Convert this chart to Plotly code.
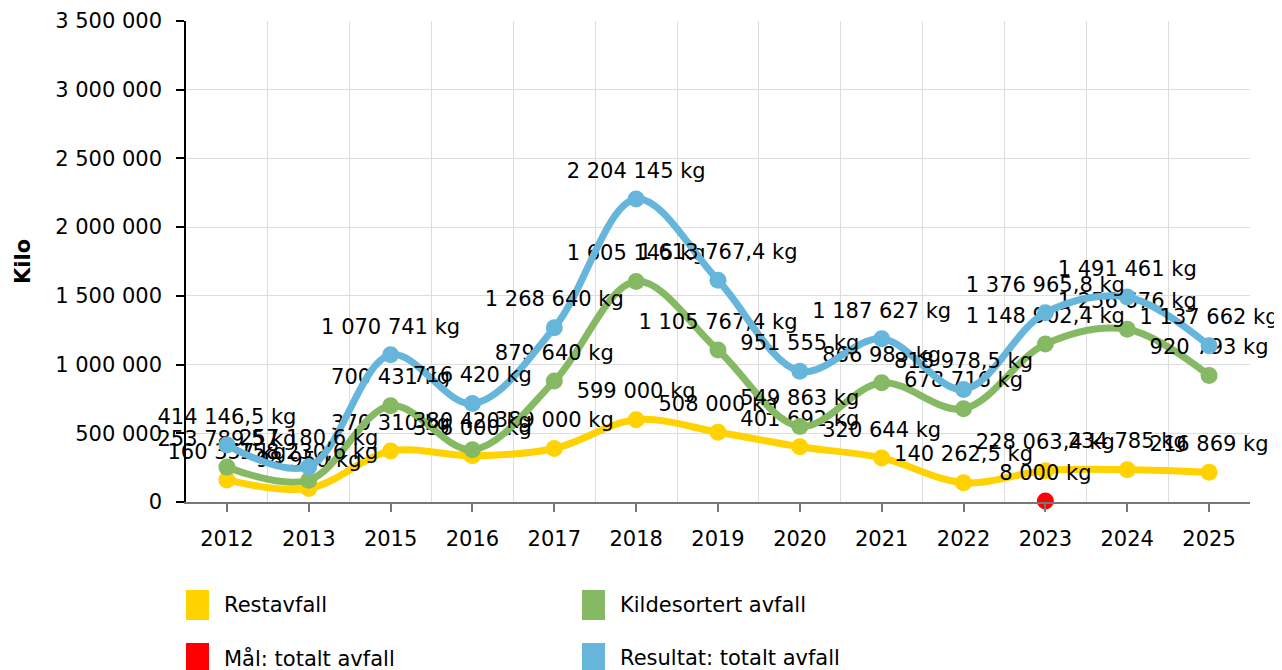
import plotly.graph_objects as go

years = ["2012", "2013", "2015", "2016", "2017", "2018", "2019", "2020", "2021", "2022", "2023", "2024", "2025"]
restavfall = [160357, 98950, 370310, 336000, 389000, 599000, 508000, 401692, 320644, 140262.5, 228063.4, 234785, 216869]
kildesortert = [253789.5, 158230.6, 700431, 380420, 879640, 1605145, 1105767.4, 549863, 866983, 678716, 1148902.4, 1256676, 920793]
resultat_total = [414146.5, 257180.6, 1070741, 716420, 1268640, 2204145, 1613767.4, 951555, 1187627, 818978.5, 1376965.8, 1491461, 1137662]
maal_years = ["2023"]
maal_total = [8000]

series_names = ["Restavfall", "Kildesortert avfall", "Mål: totalt avfall", "Resultat: totalt avfall"]
colors = {"Restavfall": "#FFD200", "Kildesortert avfall": "#86B963",
          "Mål: totalt avfall": "#FF0000", "Resultat: totalt avfall": "#66B6DC"}

FONT = "DejaVu Sans"
FS = 21


def fmt(v):
    if float(v).is_integer():
        s = f"{v:,.0f}"
    else:
        s = f"{v:,.1f}"
    return s.replace(",", " ").replace(".", ",") + " kg"


fig = go.Figure()

# dummy trace to define the main category axis
fig.add_trace(go.Scatter(x=years, y=[None] * len(years), mode="markers",
                         showlegend=False, hoverinfo="skip", xaxis="x", yaxis="y"))

series = [("Restavfall", years, restavfall, "lines+markers"),
          ("Kildesortert avfall", years, kildesortert, "lines+markers"),
          ("Resultat: totalt avfall", years, resultat_total, "lines+markers"),
          ("Mål: totalt avfall", maal_years, maal_total, "markers")]

for name, xs, vals, mode in series:
    fig.add_trace(go.Scatter(
        x=xs, y=vals, name=name, mode=mode,
        line=dict(color=colors[name], width=7, shape="spline", smoothing=1),
        marker=dict(color=colors[name], size=17),
        cliponaxis=False, showlegend=False, hoverinfo="skip",
        xaxis="x2", yaxis="y"))
    # value labels (a transparent, larger marker sets the label's distance from the point)
    fig.add_trace(go.Scatter(
        x=xs, y=vals, name=name, mode="markers+text",
        marker=dict(color="rgba(0,0,0,0)", size=24),
        text=[fmt(v) for v in vals], textposition="top center",
        textfont=dict(family=FONT, size=FS, color="#000"),
        cliponaxis=False, showlegend=False, hoverinfo="skip",
        xaxis="x2", yaxis="y"))

# page has an 8px body margin; the figure is sized so the plot area lands on the reference
W, H = 1274, 662
ML, MR, MT, MB = 178, 32, 13, 168
plot_w = W - ML - MR
plot_h = H - MT - MB
legend_pos = [(0, 103), (396, 103), (0, 156), (396, 156)]  # offsets from plot-area bottom-left
shapes = []
annotations = []
for name, (dx, dy) in zip(series_names, legend_pos):
    shapes.append(dict(type="rect", xref="paper", yref="paper",
                       x0=dx / plot_w, x1=(dx + 23) / plot_w,
                       y0=-(dy + 15) / plot_h, y1=-(dy - 15) / plot_h,
                       fillcolor=colors[name], line=dict(width=0)))
    annotations.append(dict(xref="paper", yref="paper", x=(dx + 36) / plot_w,
                            y=-dy / plot_h, text=name, showarrow=False,
                            xanchor="left", yanchor="middle",
                            font=dict(family=FONT, size=FS, color="#000")))

fig.update_layout(
    width=W, height=H,
    margin=dict(l=ML, r=MR, t=MT, b=MB, autoexpand=False),
    paper_bgcolor="white", plot_bgcolor="white",
    separators=", ",
    font=dict(family=FONT, size=FS, color="#000"),
    showlegend=False,
    shapes=shapes, annotations=annotations,
    xaxis=dict(type="category", categoryorder="array", categoryarray=years,
               range=[-0.5, len(years) - 0.5], showgrid=False, automargin=False,
               ticks="outside", ticklen=8, tickcolor="#777", tickwidth=2,
               ticklabelstandoff=9,
               showline=True, linecolor="#777", linewidth=2,
               tickfont=dict(family=FONT, size=FS, color="#000")),
    xaxis2=dict(type="category", categoryorder="array", categoryarray=years,
                range=[-0.5, len(years) - 0.5], overlaying="x", matches="x",
                tickson="boundaries", showgrid=True, gridcolor="#DDDDDD", gridwidth=1,
                showticklabels=False, ticks="", showline=False, automargin=False),
    yaxis=dict(range=[0, 3500000], dtick=500000, tickformat=",d", automargin=False,
               showgrid=True, gridcolor="#DDDDDD", gridwidth=1,
               ticks="outside", ticklen=8, tickcolor="#000", tickwidth=1.5,
               ticklabelstandoff=10,
               showline=True, linecolor="#000", linewidth=1.5,
               zeroline=False,
               tickfont=dict(family=FONT, size=FS, color="#000"),
               title=dict(text="<b>Kilo</b>", standoff=19,
                          font=dict(family=FONT, size=FS, color="#000"))),
)

fig.write_html("out.html")
